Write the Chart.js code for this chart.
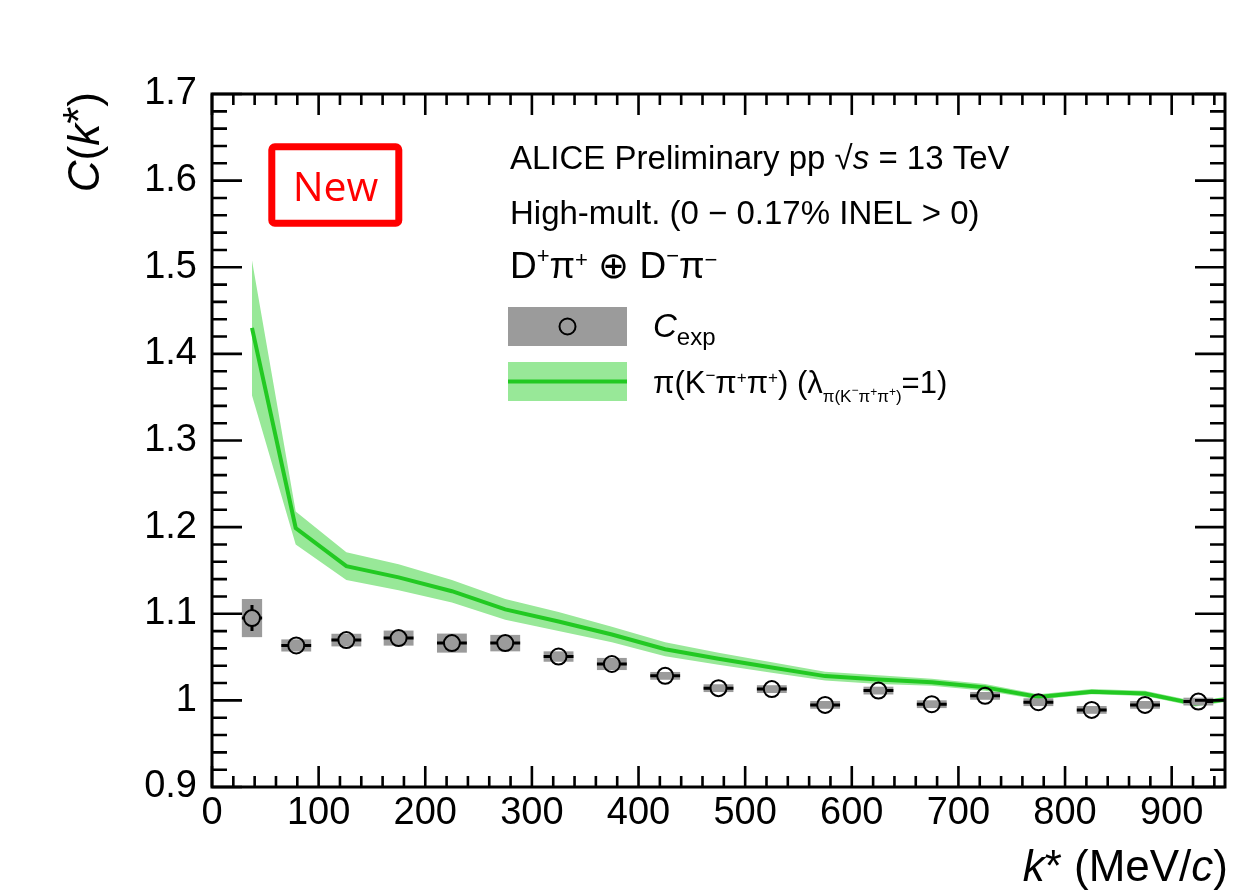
<!DOCTYPE html>
<html><head><meta charset="utf-8">
<script src="https://cdn.jsdelivr.net/npm/chart.js@4.4.1/dist/chart.umd.min.js"></script>
<style>html,body{margin:0;padding:0;background:#fff;} #wrap{width:1235px;height:895px;position:relative;}</style>
</head><body><div id="wrap"><canvas id="c" width="1235" height="895"></canvas></div>
<script>
// ---- data ----
const kExp   = [37.5, 79, 126, 175, 225, 275, 325, 375, 425, 475, 525, 575, 625, 675, 725, 775, 825, 875, 925];
const cExp   = [1.095, 1.0634, 1.0696, 1.0719, 1.0661, 1.0661, 1.0506, 1.0420, 1.0283, 1.0141, 1.0130, 0.9948, 1.0113, 0.9956, 1.0052, 0.9979, 0.9890, 0.9948, 0.9986];
const statExp = [0.015, 0.005, 0.005, 0.005, 0.005, 0.005, 0.005, 0.005, 0.005, 0.005, 0.005, 0.005, 0.005, 0.005, 0.005, 0.005, 0.005, 0.005, 0.005];
const sysExp  = [0.022, 0.007, 0.0073, 0.0087, 0.011, 0.0095, 0.006, 0.007, 0.0045, 0.0045, 0.0045, 0.0045, 0.0045, 0.0045, 0.0045, 0.0045, 0.0045, 0.0045, 0.0045];
const kErrExp = [9.5, 14, 14, 14, 14, 14, 14, 14, 14, 14, 14, 14, 14, 14, 14, 14, 14, 14, 14];

const kModel   = [37.5, 78.5, 126, 175, 225, 275, 325, 375, 425, 475, 525, 575, 625, 675, 725, 775, 825, 875, 922, 950];
const cModel   = [1.430, 1.199, 1.155, 1.142, 1.126, 1.105, 1.091, 1.076, 1.059, 1.048, 1.038, 1.028, 1.024, 1.021, 1.015, 1.004, 1.010, 1.008, 0.996, 1.001];
const errModel = [0.078, 0.019, 0.016, 0.015, 0.013, 0.012, 0.011, 0.009, 0.008, 0.007, 0.006, 0.005, 0.005, 0.004, 0.004, 0.003, 0.003, 0.003, 0.003, 0.003];

const xTickValues = [0, 100, 200, 300, 400, 500, 600, 700, 800, 900];
const xTickLabels = ['0', '100', '200', '300', '400', '500', '600', '700', '800', '900'];
const yTickValues = [0.9, 1.0, 1.1, 1.2, 1.3, 1.4, 1.5, 1.6, 1.7];
const yTickLabels = ['0.9', '1', '1.1', '1.2', '1.3', '1.4', '1.5', '1.6', '1.7'];

// ---- styles ----
const FONT = '"Liberation Sans", Arial, Helvetica, sans-serif';
const GREY = '#9b9b9b';
const BAND = 'rgb(152,232,152)';
const GREEN = '#22c922';

function fontStr(p){ return (p.italic ? 'italic ' : '') + p.size + 'px ' + (p.family || FONT); }
function drawRich(ctx, x, y, parts, align){
  ctx.save();
  ctx.textBaseline = 'alphabetic'; ctx.textAlign = 'left';
  let w = 0;
  for (const p of parts){ ctx.font = fontStr(p); p._w = ctx.measureText(p.t).width + (p.gap || 0); w += p._w; }
  let cx = align === 'right' ? x - w : (align === 'center' ? x - w / 2 : x);
  for (const p of parts){ ctx.font = fontStr(p); ctx.fillStyle = p.color || '#000'; ctx.fillText(p.t, cx, y + (p.dy || 0)); cx += p._w; }
  ctx.restore();
  return w;
}

const expBoxes = {
  id: 'expBoxes',
  beforeDatasetDraw(chart, args){
    if (args.index !== 0) return;
    const {ctx, scales: {x, y}} = chart;
    const r = 8;
    ctx.save();
    ctx.fillStyle = GREY;
    for (let i = 0; i < kExp.length; i++){
      const x0 = x.getPixelForValue(kExp[i] - kErrExp[i]), x1 = x.getPixelForValue(kExp[i] + kErrExp[i]);
      const y0 = y.getPixelForValue(cExp[i] + sysExp[i]), y1 = y.getPixelForValue(cExp[i] - sysExp[i]);
      ctx.fillRect(x0, y0, x1 - x0, y1 - y0);
    }
    ctx.strokeStyle = '#000'; ctx.lineWidth = 3;
    ctx.beginPath();
    for (let i = 0; i < kExp.length; i++){
      const px = x.getPixelForValue(kExp[i]), py = y.getPixelForValue(cExp[i]);
      const x0 = x.getPixelForValue(kExp[i] - kErrExp[i]), x1 = x.getPixelForValue(kExp[i] + kErrExp[i]);
      if (px - x0 > r){ ctx.moveTo(x0, py); ctx.lineTo(px - r, py); ctx.moveTo(px + r, py); ctx.lineTo(x1, py); }
      const yt = y.getPixelForValue(cExp[i] + statExp[i]), yb = y.getPixelForValue(cExp[i] - statExp[i]);
      if (py - yt > r){ ctx.moveTo(px, yt); ctx.lineTo(px, py - r); ctx.moveTo(px, py + r); ctx.lineTo(px, yb); }
    }
    ctx.stroke();
    ctx.restore();
  }
};

const axisFrame = {
  id: 'axisFrame',
  afterDatasetsDraw(chart){
    const {ctx, chartArea: a, scales: {x, y}} = chart;
    ctx.save();
    ctx.strokeStyle = '#000'; ctx.lineWidth = 2.6; ctx.lineCap = 'butt';
    ctx.beginPath();
    for (let i = 0; i <= 47; i++){
      const v = i * 20; const px = x.getPixelForValue(v);
      const L = (i % 5 === 0) ? 21 : 11;
      ctx.moveTo(px, a.bottom); ctx.lineTo(px, a.bottom - L);
      ctx.moveTo(px, a.top); ctx.lineTo(px, a.top + L);
    }
    for (let i = 0; i <= 40; i++){
      const v = 0.9 + i * 0.02; const py = y.getPixelForValue(v);
      const L = (i % 5 === 0) ? 30 : 15;
      ctx.moveTo(a.left, py); ctx.lineTo(a.left + L, py);
      ctx.moveTo(a.right, py); ctx.lineTo(a.right - L, py);
    }
    ctx.stroke();
    ctx.lineWidth = 3;
    ctx.strokeRect(a.left, a.top, a.right - a.left, a.bottom - a.top);
    ctx.restore();
  }
};

const annotations = {
  id: 'annotations',
  afterDraw(chart){
    const ctx = chart.ctx;
    const L = 33;
    // New box
    ctx.save();
    ctx.strokeStyle = '#ff0000'; ctx.lineWidth = 7; ctx.lineJoin = 'round';
    ctx.beginPath(); ctx.roundRect(271.8, 146.8, 127, 76.4, 3); ctx.stroke();
    ctx.fillStyle = '#ff0000'; ctx.font = '41px "Open Sans", "DejaVu Sans", sans-serif';
    ctx.textAlign = 'center'; ctx.textBaseline = 'alphabetic';
    ctx.fillText('New', 335.5, 200.5);
    ctx.restore();

    // header lines
    drawRich(ctx, 510, 169, [{t:'ALICE Preliminary pp ', size:L}, {t:'√', size:L}, {t:'s', size:L, italic:true}, {t:' = 13 TeV', size:L}]);
    drawRich(ctx, 510, 224, [{t:'High-mult. (0 \u2212 0.17% INEL > 0)', size:L}]);
    const D = 37, DS = 22;
    drawRich(ctx, 510, 278, [
      {t:'D', size:D}, {t:'+', size:DS, dy:-15}, {t:'π', size:D}, {t:'+', size:DS, dy:-11},
      {t:' ⊕ ', size:D}, {t:'D', size:D}, {t:'\u2212', size:DS, dy:-15}, {t:'π', size:D}, {t:'\u2212', size:DS, dy:-11}
    ]);

    // legend
    ctx.save();
    ctx.fillStyle = GREY; ctx.fillRect(508, 307, 119, 39);
    ctx.strokeStyle = '#000'; ctx.lineWidth = 2;
    ctx.beginPath(); ctx.arc(567.5, 326.5, 8, 0, Math.PI * 2); ctx.stroke();
    ctx.fillStyle = BAND; ctx.fillRect(508, 362, 119, 39);
    ctx.strokeStyle = GREEN; ctx.lineWidth = 4;
    ctx.beginPath(); ctx.moveTo(508, 381.5); ctx.lineTo(627, 381.5); ctx.stroke();
    ctx.restore();
    drawRich(ctx, 653, 337, [{t:'C', size:L, italic:true}, {t:'exp', size:24, dy:8}]);
    const M = 31, S = 17, T = 12;
    drawRich(ctx, 653, 393, [
      {t:'π(K', size:M}, {t:'\u2212', size:S, dy:-12}, {t:'π', size:M}, {t:'+', size:S, dy:-10}, {t:'π', size:M}, {t:'+', size:S, dy:-10},
      {t:') (λ', size:M},
      {t:'π(K', size:S, dy:9}, {t:'\u2212', size:T, dy:1}, {t:'π', size:S, dy:9}, {t:'+', size:T, dy:3}, {t:'π', size:S, dy:9}, {t:'+', size:T, dy:3}, {t:')', size:S, dy:9},
      {t:'=1)', size:M}
    ]);

    // axis titles
    const TT = 44;
    drawRich(ctx, 1228, 881, [{t:'k', size:TT, italic:true}, {t:'* (MeV/', size:TT}, {t:'c', size:TT, italic:true}, {t:')', size:TT}], 'right');
    ctx.save();
    ctx.translate(99, 92); ctx.rotate(-Math.PI / 2);
    drawRich(ctx, 0, 0, [{t:'C', size:TT, italic:true}, {t:'(', size:TT}, {t:'k', size:TT, italic:true}, {t:'*', size:TT, dy:-5}, {t:')', size:TT}], 'right');
    ctx.restore();
  }
};

const ctx = document.getElementById('c').getContext('2d');
new Chart(ctx, {
  type: 'scatter',
  data: {
    datasets: [
      {label: 'exp', data: kExp.map((k, i) => ({x: k, y: cExp[i]})), pointRadius: 8, pointHoverRadius: 8,
       pointBorderWidth: 2, pointBorderColor: '#000', pointBackgroundColor: 'rgba(0,0,0,0)', showLine: false, order: 0},
      {label: 'model', type: 'line', data: kModel.map((k, i) => ({x: k, y: cModel[i]})), borderColor: GREEN, borderWidth: 4,
       pointRadius: 0, fill: false, tension: 0, order: 1},
      {label: 'modelHi', type: 'line', data: kModel.map((k, i) => ({x: k, y: cModel[i] + errModel[i]})), borderColor: 'rgba(0,0,0,0)', borderWidth: 1,
       pointRadius: 0, fill: '+1', backgroundColor: BAND, tension: 0, order: 2},
      {label: 'modelLo', type: 'line', data: kModel.map((k, i) => ({x: k, y: cModel[i] - errModel[i]})), borderColor: 'rgba(0,0,0,0)', borderWidth: 1,
       pointRadius: 0, fill: false, tension: 0, order: 3}
    ]
  },
  options: {
    responsive: false, animation: false, events: [],
    layout: {padding: {top: 94, right: 8, left: 0, bottom: 0}},
    plugins: {legend: {display: false}, tooltip: {enabled: false}},
    scales: {
      x: {type: 'linear', min: 0, max: 950,
          afterFit(s){ s.height = 108; },
          afterBuildTicks(s){ s.ticks = xTickValues.map(v => ({value: v})); },
          grid: {display: false, drawTicks: false}, border: {display: false},
          ticks: {font: {size: 38, family: FONT}, color: '#000', padding: 4, maxRotation: 0, autoSkip: false,
                  callback: (v) => { const i = xTickValues.indexOf(v); return i >= 0 ? xTickLabels[i] : ''; }}},
      y: {type: 'linear', min: 0.9, max: 1.7,
          afterFit(s){ s.width = 212; },
          afterBuildTicks(s){ s.ticks = yTickValues.map(v => ({value: v})); },
          grid: {display: false, drawTicks: false}, border: {display: false},
          ticks: {font: {size: 38, family: FONT}, color: '#000', padding: 15, autoSkip: false,
                  callback: (v) => { const i = yTickValues.findIndex(t => Math.abs(t - v) < 1e-9); return i >= 0 ? yTickLabels[i] : ''; }}}
    }
  },
  plugins: [expBoxes, axisFrame, annotations]
});
</script>
</body></html>
